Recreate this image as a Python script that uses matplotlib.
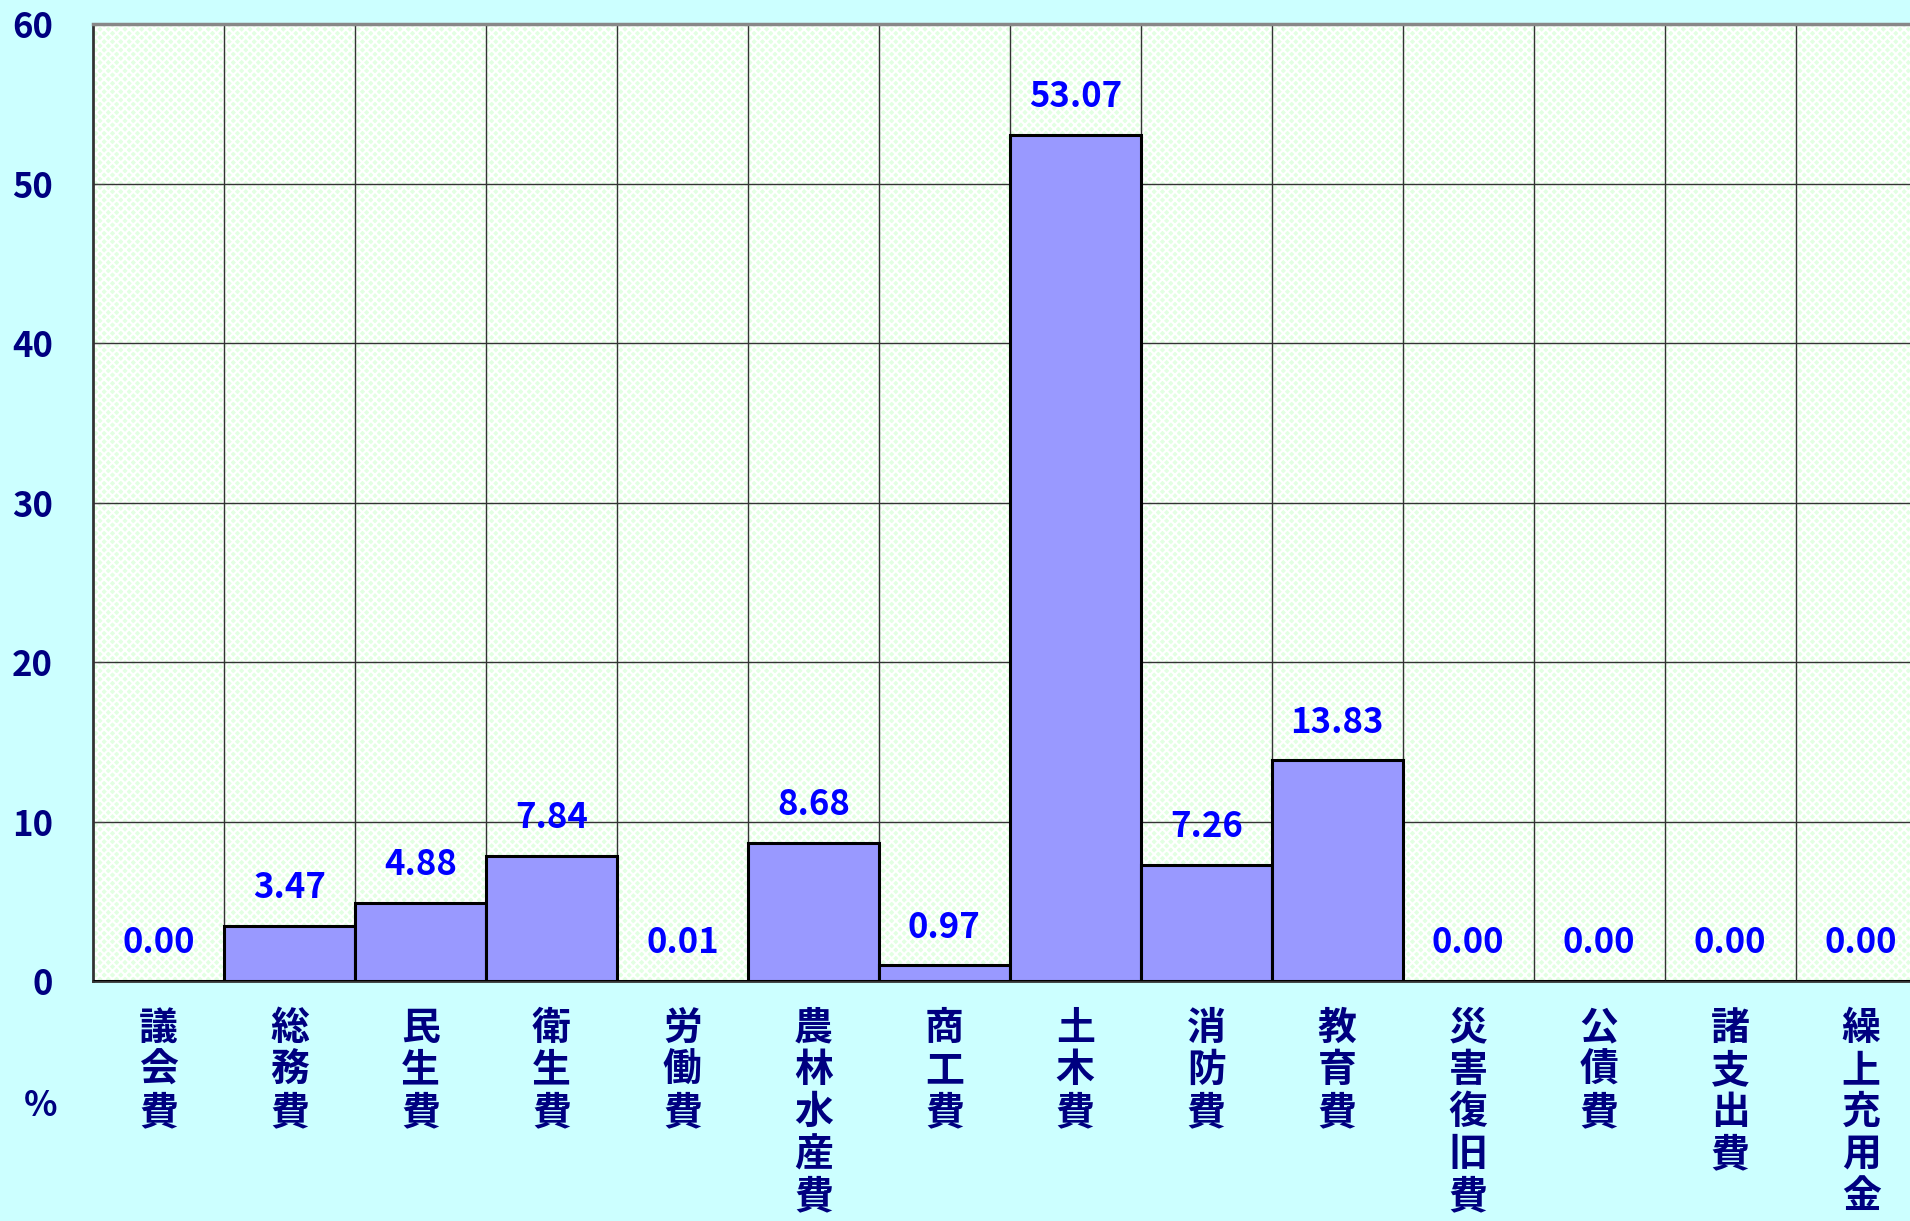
import matplotlib.pyplot as plt
from matplotlib.patches import Rectangle
import numpy as np

plt.rcParams['font.family'] = ['Noto Sans CJK JP', 'DejaVu Sans']
plt.rcParams['hatch.linewidth'] = 1.5

categories = ['議会費', '総務費', '民生費', '衛生費', '労働費', '農林水産費', '商工費',
              '土木費', '消防費', '教育費', '災害復旧費', '公債費', '諸支出費', '繰上充用金']
values = [0.00, 3.47, 4.88, 7.84, 0.01, 8.68, 0.97, 53.07, 7.26, 13.83, 0.00, 0.00, 0.00, 0.00]
yticks = [0, 10, 20, 30, 40, 50, 60]

navy = '#000080'
fig = plt.figure(figsize=(19.10, 12.21), dpi=100, facecolor='#CCFFFF')
# plot area runs past the right edge of the figure, last column is cut off
ax = fig.add_axes([0.0487, 0.1966, 0.960, 0.980 - 0.1966])
ax.set_facecolor('white')
ax.add_patch(Rectangle((0, 0), 1, 1, transform=ax.transAxes, facecolor='#E2FFE2',
                       hatch='xxxx', edgecolor='white', linewidth=0, zorder=0))

x = np.arange(len(categories))
ax.bar(x, values, width=1.0, color='#9999FF', edgecolor='black', linewidth=2.2, zorder=3)

for xi, v in zip(x, values):
    ax.annotate(f'{v:.2f}', (xi, v), xytext=(0, 15), textcoords='offset points',
                ha='center', va='bottom', color='#0000FF', fontsize=25, fontweight='bold')

ax.set_xlim(-0.5, len(categories) - 0.5)
ax.set_ylim(0, 60)
ax.set_yticks(yticks)
ax.set_yticklabels([str(t) for t in yticks], fontsize=25, fontweight='bold', color=navy)
ax.set_xticks(x)
ax.set_xticklabels(['\n'.join(c) for c in categories], fontsize=28, fontweight='bold',
                   color=navy, va='top', linespacing=1.1)
ax.set_xticks(x[:-1] + 0.5, minor=True)
ax.tick_params(axis='x', which='both', length=0, pad=20)
ax.tick_params(axis='y', direction='in', length=8, pad=29, color='#404040')
ax.grid(True, axis='y', which='major', color='#333333', linewidth=1.0, zorder=1)
ax.grid(True, axis='x', which='minor', color='#333333', linewidth=1.0, zorder=1)
ax.set_axisbelow(True)
for s in ['left', 'bottom']:
    ax.spines[s].set_color('#333333')
    ax.spines[s].set_linewidth(2)
ax.spines['top'].set_color('#888888')
ax.spines['top'].set_linewidth(2.5)
ax.spines['right'].set_visible(False)

fig.text(41 / 1910, 1 - 1105 / 1221, '%', ha='center', va='center', fontsize=25,
         fontweight='bold', color=navy)

fig.savefig('out.png', dpi=100, facecolor=fig.get_facecolor())
